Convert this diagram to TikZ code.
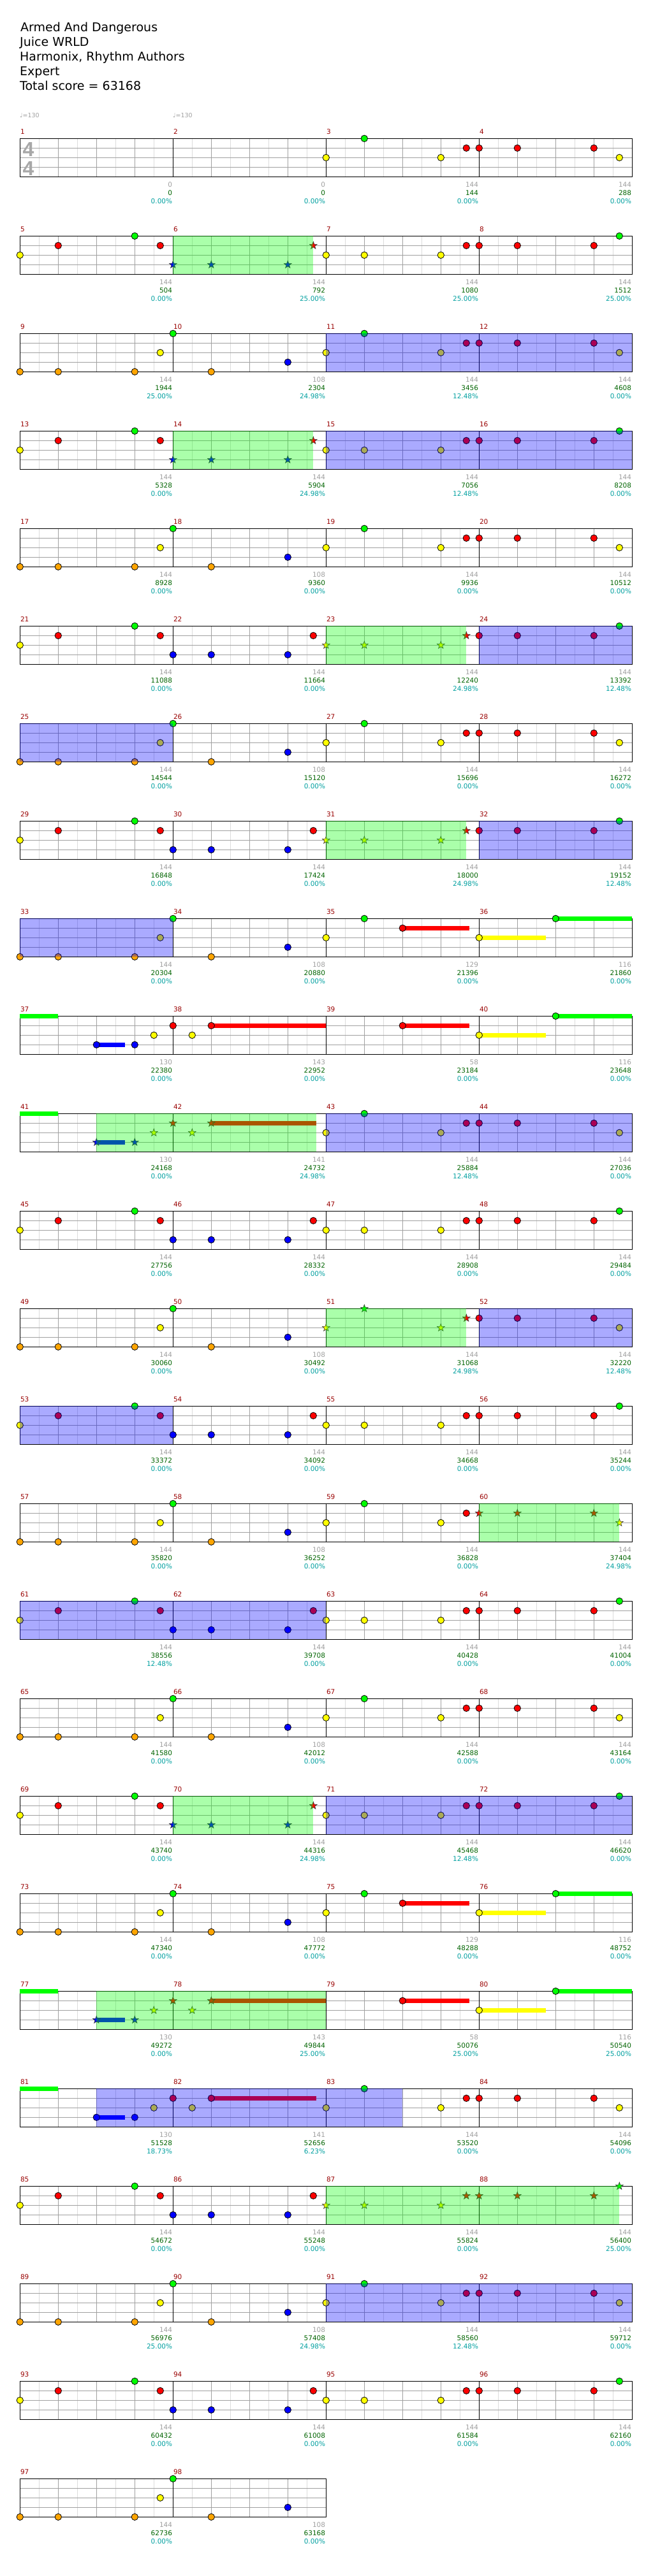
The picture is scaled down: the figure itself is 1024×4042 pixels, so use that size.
\documentclass[tikz,border=0pt]{standalone}
\usepackage{fontspec}
\setmainfont{DejaVu Sans}
\newfontfamily\tsfont{Liberation Sans}
\definecolor{cg}{HTML}{00FF00}
\definecolor{cr}{HTML}{FF0000}
\definecolor{cy}{HTML}{FFFF00}
\definecolor{cb}{HTML}{0000FF}
\definecolor{co}{HTML}{FFA500}
\definecolor{gridgray}{HTML}{A0A0A0}
\definecolor{gridlight}{HTML}{DCDCDC}
\definecolor{cntgray}{HTML}{A0A0A0}
\definecolor{scoregreen}{HTML}{006400}
\definecolor{pctcyan}{HTML}{00A0A0}
\definecolor{numred}{HTML}{990000}
\definecolor{tsgray}{HTML}{A8A8A8}
\newcommand\setm[1]{\pgfmathsetmacro\xo{31.3+240*mod(#1-1,4)}\pgfmathsetmacro\yo{217.3+153*floor((#1-1)/4)}}
\newcommand\note[4]{\setm{#1}\filldraw[notest,fill=#4] (\xo+60*#2,\yo+15*#3) circle[radius=5.2pt];}
\newcommand\snote[4]{\setm{#1}\filldraw[starst,fill=#4] (\xo+60*#2,\yo+15*#3) +(-90:6.2) -- +(-54:2.5) -- +(-18:6.2) -- +(18:2.5) -- +(54:6.2) -- +(90:2.5) -- +(126:6.2) -- +(162:2.5) -- +(198:6.2) -- +(234:2.5) -- cycle;}
\newcommand\sus[5]{\setm{#1}\draw[susst,#5] (\xo+60*#2,\yo+15*#4) -- (\xo+60*#3,\yo+15*#4);}
% patterns: #1 = note macro, #2 = measure
\newcommand\patA[2]{#1{#2}{0}{2}{cy}#1{#2}{1}{1}{cr}#1{#2}{3}{0}{cg}#1{#2}{11/3}{1}{cr}}
\newcommand\patB[2]{#1{#2}{0}{3}{cb}#1{#2}{1}{3}{cb}#1{#2}{3}{3}{cb}#1{#2}{11/3}{1}{cr}}
\newcommand\patC[2]{#1{#2}{0}{2}{cy}#1{#2}{1}{2}{cy}#1{#2}{3}{2}{cy}#1{#2}{11/3}{1}{cr}}
\newcommand\patD[2]{#1{#2}{0}{1}{cr}#1{#2}{1}{1}{cr}#1{#2}{3}{1}{cr}#1{#2}{11/3}{0}{cg}}
\newcommand\patE[2]{#1{#2}{0}{4}{co}#1{#2}{1}{4}{co}#1{#2}{3}{4}{co}#1{#2}{11/3}{2}{cy}}
\newcommand\patF[2]{#1{#2}{0}{0}{cg}#1{#2}{1}{4}{co}#1{#2}{3}{3}{cb}}
\newcommand\patG[2]{#1{#2}{0}{2}{cy}#1{#2}{1}{0}{cg}#1{#2}{3}{2}{cy}#1{#2}{11/3}{1}{cr}}
\newcommand\patH[2]{#1{#2}{0}{1}{cr}#1{#2}{1}{1}{cr}#1{#2}{3}{1}{cr}#1{#2}{11/3}{2}{cy}}
\newcommand\patSa[2]{\sus{#2}{2}{3.75}{1}{cr}#1{#2}{0}{2}{cy}#1{#2}{1}{0}{cg}#1{#2}{2}{1}{cr}}
\newcommand\patSb[2]{\sus{#2}{0}{1.75}{2}{cy}\sus{#2}{2}{4}{0}{cg}#1{#2}{0}{2}{cy}#1{#2}{2}{0}{cg}}
\newcommand\patSc[2]{\sus{#2}{0}{1}{0}{cg}\sus{#2}{2}{2.75}{3}{cb}#1{#2}{2}{3}{cb}#1{#2}{3}{3}{cb}#1{#2}{3.5}{2}{cy}}
\newcommand\patSd[3]{\sus{#2}{1}{#3}{1}{cr}#1{#2}{0}{1}{cr}#1{#2}{0.5}{2}{cy}#1{#2}{1}{1}{cr}}
\newcommand\patSe[2]{\sus{#2}{2}{3.75}{1}{cr}#1{#2}{2}{1}{cr}}
\newcommand\spg[4]{\setm{#1}\pgfmathsetmacro\xa{\xo+60*#2}\setm{#3}\pgfmathsetmacro\xb{\xo+60*#4}\fill[spfill] (\xa,\yo) rectangle (\xb,\yo+60);}
\newcommand\spb[4]{\setm{#1}\pgfmathsetmacro\xa{\xo+60*#2}\setm{#3}\pgfmathsetmacro\xb{\xo+60*#4}\fill[odfill] (\xa,\yo) rectangle (\xb,\yo+60);}
\begin{document}
\begin{tikzpicture}[x=1pt,y=-1pt,
  eighthl/.style={draw=gridlight,line width=1pt},
  beatl/.style={draw=gridgray,line width=1pt},
  staffb/.style={draw=black,line width=1.1pt},
  notest/.style={draw=black,line width=0.8pt},
  starst/.style={draw=black!80,line width=0.6pt,line join=miter},
  susst/.style={line width=6.5pt,line cap=butt},
  spfill/.style={fill=cg,fill opacity=0.3333},
  odfill/.style={fill=cb,fill opacity=0.3333},
  titlef/.style={font=\fontsize{19}{23}\selectfont,text=black,inner sep=0pt,anchor=base west},
  small/.style={font=\fontsize{10.5}{12}\selectfont,inner sep=0pt},
  numlab/.style={small,text=numred,anchor=base west},
  cntlab/.style={small,text=cntgray,anchor=base east},
  sclab/.style={small,text=scoregreen,anchor=base east},
  pclab/.style={small,text=pctcyan,anchor=base east},
  tempo/.style={font=\fontsize{9.5}{11}\selectfont,text=cntgray,inner sep=0pt,anchor=base west},
  tsig/.style={font=\tsfont\bfseries\fontsize{32}{32}\selectfont,text=tsgray,inner sep=0pt,anchor=base west}]
\fill[white] (0,0) rectangle (1024,4042);
\useasboundingbox (0,0) rectangle (1024,4042);
% title
\node[titlef] (t1) at (32,49.3) {Armed And Dangerous};
\node[titlef] (t2) at (31,72.3) {Juice WRLD};
\node[titlef] (t3) at (31,95.3) {Harmonix, Rhythm Authors};
\node[titlef] (t4) at (31,118.3) {Expert};
\node[titlef] (t5) at (31,141.3) {Total score = 63168};
\node[tempo] (tp1) at (31,184) {♩=130};
\node[tempo] (tp2) at (271,184) {♩=130};
% grid
\foreach \m in {1,...,98}{%
  \setm{\m}%
  \foreach \k in {1,3,5,7}{\draw[eighthl] (\xo+30*\k,\yo) -- (\xo+30*\k,\yo+60);}
  \foreach \k in {1,2,3}{\draw[beatl] (\xo+60*\k,\yo) -- (\xo+60*\k,\yo+60);}
  \foreach \k in {1,2,3}{\draw[beatl] (\xo,\yo+15*\k) -- (\xo+240,\yo+15*\k);}
}
\foreach \m in {1,...,98}{%
  \setm{\m}%
  \draw[staffb] (\xo,\yo) rectangle (\xo+240,\yo+60);
}
\node[tsig] (ts1) at (35.5,245.3) {4};
\node[tsig] (ts2) at (35.5,275.3) {4};
% notes
\patG\note{3} \patH\note{4}
\patA\note{5} \patB\snote{6} \patC\note{7} \patD\note{8}
\patE\note{9} \patF\note{10} \patG\note{11} \patH\note{12}
\patA\note{13} \patB\snote{14} \patC\note{15} \patD\note{16}
\patE\note{17} \patF\note{18} \patG\note{19} \patH\note{20}
\patA\note{21} \patB\note{22} \patC\snote{23} \patD\note{24}
\patE\note{25} \patF\note{26} \patG\note{27} \patH\note{28}
\patA\note{29} \patB\note{30} \patC\snote{31} \patD\note{32}
\patE\note{33} \patF\note{34} \patSa\note{35} \patSb\note{36}
\patSc\note{37} \patSd\note{38}{4} \patSe\note{39} \patSb\note{40}
\patSc\snote{41} \patSd\snote{42}{3.75} \patG\note{43} \patH\note{44}
\patA\note{45} \patB\note{46} \patC\note{47} \patD\note{48}
\patE\note{49} \patF\note{50} \patG\snote{51} \patH\note{52}
\patA\note{53} \patB\note{54} \patC\note{55} \patD\note{56}
\patE\note{57} \patF\note{58} \patG\note{59} \patH\snote{60}
\patA\note{61} \patB\note{62} \patC\note{63} \patD\note{64}
\patE\note{65} \patF\note{66} \patG\note{67} \patH\note{68}
\patA\note{69} \patB\snote{70} \patC\note{71} \patD\note{72}
\patE\note{73} \patF\note{74} \patSa\note{75} \patSb\note{76}
\patSc\snote{77} \patSd\snote{78}{4} \patSe\note{79} \patSb\note{80}
\patSc\note{81} \patSd\note{82}{3.75} \patG\note{83} \patH\note{84}
\patA\note{85} \patB\note{86} \patC\snote{87} \patD\snote{88}
\patE\note{89} \patF\note{90} \patG\note{91} \patH\note{92}
\patA\note{93} \patB\note{94} \patC\note{95} \patD\note{96}
\patE\note{97} \patF\note{98}
% star power phrases
\spg{6}{0}{6}{11/3} \spg{14}{0}{14}{11/3} \spg{23}{0}{23}{11/3} \spg{31}{0}{31}{11/3}
\spg{41}{2}{42}{3.75} \spg{51}{0}{51}{11/3} \spg{60}{0}{60}{11/3} \spg{70}{0}{70}{11/3}
\spg{77}{2}{78}{4} \spg{87}{0}{88}{11/3}
% activation regions
\spb{11}{0}{12}{4} \spb{15}{0}{16}{4} \spb{24}{0}{24}{4} \spb{25}{0}{25}{4}
\spb{32}{0}{32}{4} \spb{33}{0}{33}{4} \spb{43}{0}{44}{4} \spb{52}{0}{52}{4}
\spb{53}{0}{53}{4} \spb{61}{0}{62}{4} \spb{71}{0}{72}{4} \spb{81}{2}{83}{2}
\spb{91}{0}{92}{4}
% labels
\foreach \vm/\vc/\vs/\vp in {1/0/0/0.00, 2/0/0/0.00, 3/144/144/0.00, 4/144/288/0.00,
5/144/504/0.00, 6/144/792/25.00, 7/144/1080/25.00, 8/144/1512/25.00,
9/144/1944/25.00, 10/108/2304/24.98, 11/144/3456/12.48, 12/144/4608/0.00,
13/144/5328/0.00, 14/144/5904/24.98, 15/144/7056/12.48, 16/144/8208/0.00,
17/144/8928/0.00, 18/108/9360/0.00, 19/144/9936/0.00, 20/144/10512/0.00,
21/144/11088/0.00, 22/144/11664/0.00, 23/144/12240/24.98, 24/144/13392/12.48,
25/144/14544/0.00, 26/108/15120/0.00, 27/144/15696/0.00, 28/144/16272/0.00,
29/144/16848/0.00, 30/144/17424/0.00, 31/144/18000/24.98, 32/144/19152/12.48,
33/144/20304/0.00, 34/108/20880/0.00, 35/129/21396/0.00, 36/116/21860/0.00,
37/130/22380/0.00, 38/143/22952/0.00, 39/58/23184/0.00, 40/116/23648/0.00,
41/130/24168/0.00, 42/141/24732/24.98, 43/144/25884/12.48, 44/144/27036/0.00,
45/144/27756/0.00, 46/144/28332/0.00, 47/144/28908/0.00, 48/144/29484/0.00,
49/144/30060/0.00, 50/108/30492/0.00, 51/144/31068/24.98, 52/144/32220/12.48,
53/144/33372/0.00, 54/144/34092/0.00, 55/144/34668/0.00, 56/144/35244/0.00,
57/144/35820/0.00, 58/108/36252/0.00, 59/144/36828/0.00, 60/144/37404/24.98,
61/144/38556/12.48, 62/144/39708/0.00, 63/144/40428/0.00, 64/144/41004/0.00,
65/144/41580/0.00, 66/108/42012/0.00, 67/144/42588/0.00, 68/144/43164/0.00,
69/144/43740/0.00, 70/144/44316/24.98, 71/144/45468/12.48, 72/144/46620/0.00,
73/144/47340/0.00, 74/108/47772/0.00, 75/129/48288/0.00, 76/116/48752/0.00,
77/130/49272/0.00, 78/143/49844/25.00, 79/58/50076/25.00, 80/116/50540/25.00,
81/130/51528/18.73, 82/141/52656/6.23, 83/144/53520/0.00, 84/144/54096/0.00,
85/144/54672/0.00, 86/144/55248/0.00, 87/144/55824/0.00, 88/144/56400/25.00,
89/144/56976/25.00, 90/108/57408/24.98, 91/144/58560/12.48, 92/144/59712/0.00,
93/144/60432/0.00, 94/144/61008/0.00, 95/144/61584/0.00, 96/144/62160/0.00,
97/144/62736/0.00, 98/108/63168/0.00}{%
  \setm{\vm}%
  \node[numlab] (num\vm) at (\xo+0.5,\yo-6.7) {\vm};
  \node[cntlab] (cnt\vm) at (\xo+239,\yo+76) {\vc};
  \node[sclab] (sc\vm) at (\xo+239,\yo+89.3) {\vs};
  \node[pclab] (pc\vm) at (\xo+239,\yo+102) {\vp\%};
}
\end{tikzpicture}
\end{document}
